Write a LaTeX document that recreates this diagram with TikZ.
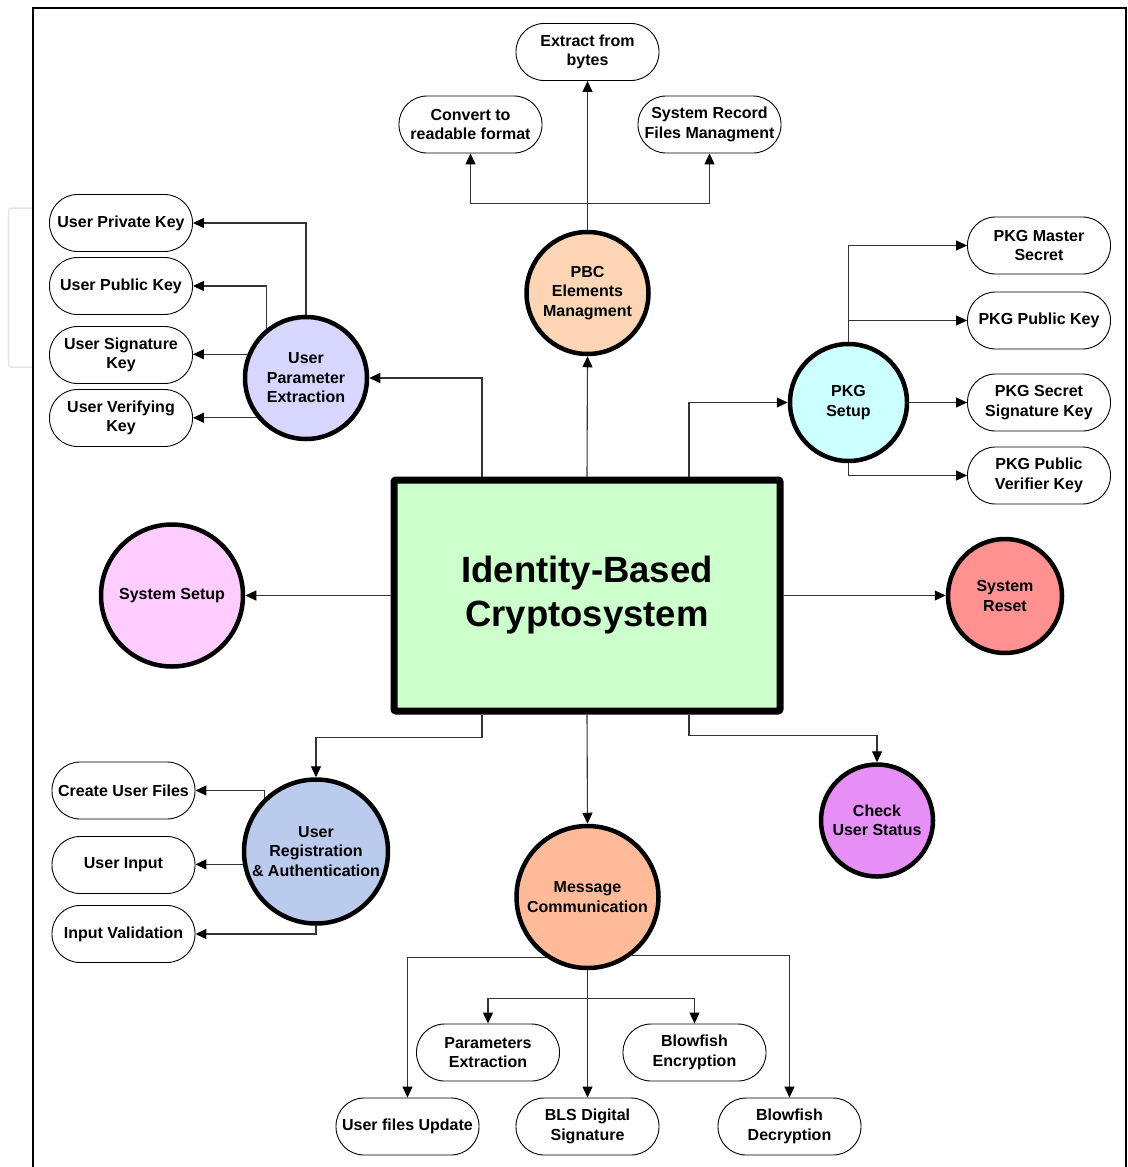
\documentclass[tikz,border=0pt]{standalone}
\usepackage{fontspec}
\setmainfont{Liberation Sans}
\usetikzlibrary{arrows.meta,calc}
\definecolor{cMain}{HTML}{CCFFCC}
\definecolor{cPBC}{HTML}{FCD5B4}
\definecolor{cUPE}{HTML}{D6D6FF}
\definecolor{cPKG}{HTML}{CCFFFF}
\definecolor{cSetup}{HTML}{FFCCFF}
\definecolor{cReset}{HTML}{FF9191}
\definecolor{cCheck}{HTML}{E68FF7}
\definecolor{cURA}{HTML}{BACBEE}
\definecolor{cMsg}{HTML}{FFBB99}
\begin{document}
\begin{tikzpicture}[x=1pt,y=-1pt,
  every node/.style={font=\fontsize{16}{19.5}\selectfont\bfseries, align=center},
  leaf/.style={draw=black, line width=0.9pt, fill=white, rounded corners=28pt,
    minimum width=143pt, minimum height=57pt, inner sep=1pt},
  proc/.style={draw=black, circle, line width=4.5pt, inner sep=0pt, minimum size=#1},
  hub/.style={draw=black, line width=7pt, fill=cMain, rounded corners=2pt,
    minimum width=386pt, minimum height=231pt,
    font=\fontsize{36.5}{44}\selectfont\bfseries},
  arr/.style={draw=black!80, line width=1.1pt,
    -{Triangle[length=11pt,width=10pt,fill=black,color=black]}},
  link/.style={draw=black!80, line width=1.1pt}
]
\useasboundingbox (0,0) rectangle (1127,1167);

% page frame and faint tab at the left
\draw[black!10, line width=1.5pt, rounded corners=3pt] (33,208) -- (8.5,208) -- (8.5,367) -- (33,367);
\draw[line width=1.8pt] (33,1167) -- (33,8) -- (1126,8) -- (1126,1167);

% central block
\node[hub] (main) at (587,595.5) {Identity-Based\\Cryptosystem};

% process circles
\node[proc=122pt, fill=cPBC]   (pbc)   at (587.5,293)   {PBC\\Elements\\Managment};
\node[proc=122pt, fill=cUPE]   (upe)   at (306,378)     {User\\Parameter\\Extraction};
\node[proc=117pt, fill=cPKG]   (pkg)   at (848.5,402.5) {PKG\\Setup};
\node[proc=142pt, fill=cSetup] (setup) at (172,595.5)   {System Setup};
\node[proc=114pt, fill=cReset] (reset) at (1005,596)    {System\\Reset};
\node[proc=112pt, fill=cCheck] (check) at (877,820.5)   {Check\\User Status};
\node[proc=144pt, fill=cURA]   (ura)   at (316,851.5)   {User\\Registration\\\& Authentication};
\node[proc=142pt, fill=cMsg]   (msg)   at (587.5,897)   {Message\\Communication};

% PBC elements
\node[leaf] (bytes) at (587.5,52)  {Extract from\\bytes};
\node[leaf] (conv)  at (470.5,124.5) {Convert to\\readable format};
\node[leaf] (rec)   at (709.5,124.5) {System Record\\Files Managment};

% user parameters
\node[leaf] (priv) at (121,223)  {User Private Key};
\node[leaf] (pub)  at (121,286)  {User Public Key};
\node[leaf] (sig)  at (121,355)  {User Signature\\Key};
\node[leaf] (ver)  at (121,418)  {User Verifying\\Key};

% PKG parameters
\node[leaf] (mast)  at (1039,245.5) {PKG Master\\Secret};
\node[leaf] (kpub)  at (1039,320.5) {PKG Public Key};
\node[leaf] (ksec)  at (1039,402.5) {PKG Secret\\Signature Key};
\node[leaf] (kver)  at (1039,475.5) {PKG Public\\Verifier Key};

% registration steps
\node[leaf] (create) at (123.5,790.5) {Create User Files};
\node[leaf] (input)  at (123.5,865)   {User Input};
\node[leaf] (valid)  at (123.5,934)   {Input Validation};

% message steps
\node[leaf] (par) at (488,1052.5) {Parameters\\Extraction};
\node[leaf] (enc) at (694.5,1052.5) {Blowfish\\Encryption};
\node[leaf] (upd) at (407.5,1126.5) {User files Update};
\node[leaf] (bls) at (587.5,1126.5) {BLS Digital\\Signature};
\node[leaf] (dec) at (789.5,1126.5) {Blowfish\\Decryption};

% central block to processes
\draw[arr] (main.north) -- (pbc.south);
\draw[arr] ([xshift=-105pt]main.north) |- (upe.east);
\draw[arr] ([xshift=102pt]main.north) |- (pkg.west);
\draw[arr] (main.west) -- (main.west -| setup.east);
\draw[arr] (main.east) -- (main.east -| reset.west);
\draw[arr] (main.south) -- (msg.north);
\draw[arr] ([xshift=-105pt]main.south) -- ++(0,23) -| (ura.north);
\draw[arr] ([xshift=102pt]main.south) -- ++(0,21) -| (check.north);

% PBC branches
\draw[arr] (pbc.north) -- (bytes.south);
\draw[link] (pbc.north) -- ++(0,-26) coordinate (pj);
\draw[arr] (pj) -| (conv.south);
\draw[arr] (pj) -| (rec.south);

% user parameter branches
\draw[arr] (upe.north) |- (priv.east);
\draw[arr] (upe.129.4) |- (pub.east);
\draw[arr] (upe.158.6) -- (upe.158.6 -| sig.east);
\draw[arr] (upe.219.4) -- (upe.219.4 -| ver.east);

% PKG branches
\draw[arr] (pkg.north) |- (mast.west);
\draw[arr] (pkg.north |- kpub.west) -- (kpub.west);
\draw[arr] (pkg.east) -- (pkg.east -| ksec.west);
\draw[arr] (pkg.south) |- (kver.west);

% registration branches
\draw[arr] (ura.134.6) |- (create.east);
\draw[arr] (ura.190.5) -- (ura.190.5 -| input.east);
\draw[arr] (ura.south) |- (valid.east);

% message branches
\draw[arr] (msg.south) -- (bls.north);
\draw[link] (msg.south) -- ++(0,28) coordinate (mj);
\draw[arr] (mj) -| (par.north);
\draw[arr] (mj) -| (enc.north);
\draw[arr] (msg.236.7) -| (upd.north);
\draw[arr] (msg.307.4) -| (dec.north);
\end{tikzpicture}
\end{document}
